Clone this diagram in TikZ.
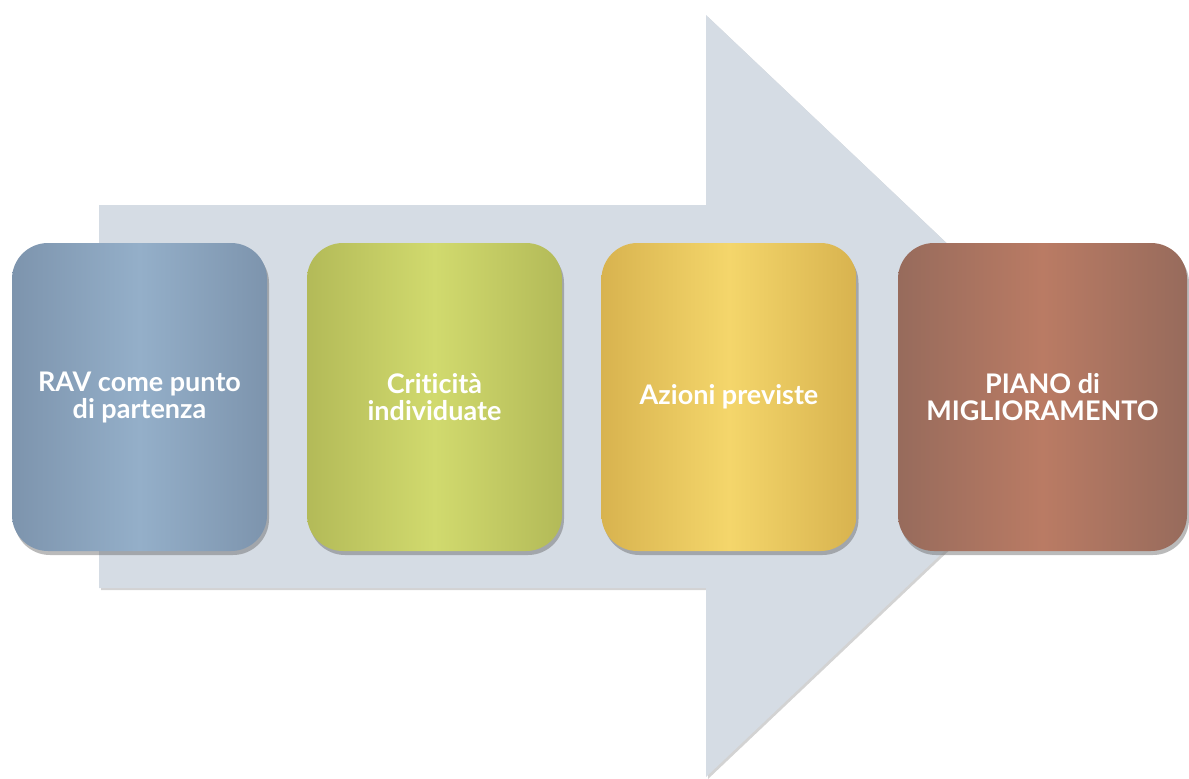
\documentclass[tikz,border=0pt]{standalone}
\usepackage{fontspec}
\setmainfont[Ligatures=NoCommon]{Lato}
\usetikzlibrary{shadows}
\definecolor{arrowfill}{HTML}{D5DCE4}
\definecolor{blueedge}{HTML}{7D94AD}
\definecolor{bluemid}{HTML}{94AFC9}
\definecolor{greenedge}{HTML}{B3BA58}
\definecolor{greenmid}{HTML}{D1DA6E}
\definecolor{yellowedge}{HTML}{D8B34F}
\definecolor{yellowmid}{HTML}{F4D66B}
\definecolor{brownedge}{HTML}{976B5C}
\definecolor{brownmid}{HTML}{BA7B64}
\tikzset{
  stepbox/.style={rounded corners=36pt, minimum width=#1, minimum height=308pt,
    inner sep=0pt, align=center, text=white, font=\bfseries\fontsize{27}{27}\selectfont,
    drop shadow={shadow xshift=2pt, shadow yshift=-4pt, opacity=0.45, fill=black!60}},
  bigarrow/.style={fill=arrowfill,
    drop shadow={shadow xshift=2pt, shadow yshift=-2pt, opacity=0.35, fill=black!50}}
}
\begin{document}
\begin{tikzpicture}[x=1pt,y=-1pt]
  \useasboundingbox (0,0) rectangle (1189,779);
  % the broad arrow behind the steps
  \path[bigarrow] (99,205) -- (706,205) -- (706,15) -- (1108,396)
    -- (706,777) -- (706,588) -- (99,588) -- cycle;
  % the four steps
  \node[stepbox=255pt, left color=blueedge, right color=blueedge, middle color=bluemid]
    (rav) at (139.5,397) {RAV come punto\\di partenza};
  \node[stepbox=255pt, left color=greenedge, right color=greenedge, middle color=greenmid]
    (crit) at (434.5,397) {Criticità\\individuate};
  \node[stepbox=255pt, left color=yellowedge, right color=yellowedge, middle color=yellowmid]
    (azioni) at (729,397) {Azioni previste};
  \node[stepbox=289pt, left color=brownedge, right color=brownedge, middle color=brownmid]
    (piano) at (1042.5,397) {PIANO di\\MIGLIORAMENTO};
\end{tikzpicture}
\end{document}
